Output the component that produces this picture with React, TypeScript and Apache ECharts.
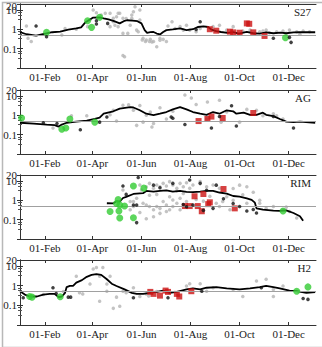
import React, { useEffect, useRef } from 'react';
import * as echarts from 'echarts';

// ---------- data (x = day of year, y = value on log scale) ----------
const panelNames = ['S27', 'AG', 'RIM', 'H2'];
const monthTickDays = [31, 90, 151, 212, 273, 334];
const monthTickLabels = ['01-Feb', '01-Apr', '01-Jun', '01-Aug', '01-Oct', '01-Dec'];
const yTickValues = [0.1, 1, 10];
const yTickLabels = ['0.1', '1', '10'];
const yTopValue = [20];
const yTopLabel = ['20'];
const refLevel = 0.5;

// S27
const s27Mean = [[0,0.7],[8,0.55],[20,0.47],[30,0.58],[40,0.7],[50,0.75],[60,0.95],[70,1.1],[76,1.25],[81,2.2],[86,3.0],[91,4.0],[99,4.1],[104,3.6],[110,3.2],[117,2.6],[124,2.0],[129,2.6],[133,2.9],[140,2.8],[146,2.6],[151,2.0],[155,0.9],[158,0.65],[162,0.7],[166,0.72],[170,0.6],[174,0.54],[178,0.72],[182,0.9],[190,0.98],[199,1.1],[207,0.9],[215,1.0],[221,1.3],[228,1.4],[234,1.3],[238,0.95],[244,0.8],[250,0.72],[258,0.65],[265,0.7],[272,0.6],[282,0.72],[290,0.62],[298,0.6],[306,0.68],[315,0.62],[324,0.66],[331,0.62],[340,0.68],[348,0.7],[358,0.7],[367,0.7]];
const s27Gray = [[8,1.46],[10,0.34],[14,0.23],[52,0.5],[56,1.1],[70,1.0],[84,1.36],[87,3.0],[91,9.8],[95,7.0],[101,5.4],[112,6.6],[116,2.45],[118,1.6],[120,4.4],[122,1.36],[124,6.6],[128,0.61],[130,0.038],[132,3.6],[137,1.6],[139,5.4],[141,8],[143,14.6],[145,0.9],[147,0.75],[149,3.0],[153,0.34],[156,0.23],[157,0.28],[162,0.3],[164,0.22],[166,0.23],[170,0.126],[174,0.34],[178,0.3],[182,0.23],[184,1.46],[189,2.45],[193,1.1],[199,1.36],[203,0.9],[207,1.6],[211,0.9],[219,0.75],[224,1.1],[240,1.36],[248,1.6],[257,0.9],[265,1.36],[277,0.8],[286,0.9],[292,0.61],[298,0.75],[302,0.8],[306,0.9],[310,0.66],[319,0.75],[327,0.8],[331,0.61],[335,0.9],[344,0.75],[348,0.55],[352,0.8],[360,0.75],[106,6.6],[112,1.36],[116,3.65],[122,6.6],[128,3.65],[139,3.65],[149,9.8],[152,0.28],[161,0.23],[174,0.27],[128,0.044],[134,0.61]];
const s27Black = [[20,1.46],[33,0.41],[95,2.75],[95,1.85],[109,2.0],[219,0.98],[224,2.45],[315,0.34],[335,0.38],[337,0.21]];
const s27Green = [[33,0.69],[84,2.75],[89,1.25],[99,4.1],[330,0.36]];
const s27Red = [[236,1.0],[244,0.84],[261,0.75],[265,0.69],[273,0.66],[282,2.0],[285,1.9],[290,0.69],[304,0.45]];

// AG
const agMean = [[0,0.41],[17,0.37],[33,0.33],[43,0.31],[48,0.26],[52,0.33],[58,0.41],[70,0.47],[83,0.53],[93,0.64],[99,0.75],[104,1.2],[116,1.6],[124,2.2],[137,2.6],[141,2.5],[149,1.8],[157,1.2],[166,1.0],[174,1.2],[182,1.46],[190,2.0],[199,2.6],[207,2.0],[215,1.46],[224,1.2],[232,1.05],[240,1.46],[248,1.2],[257,1.8],[265,1.6],[269,1.2],[278,1.35],[286,1.05],[294,1.05],[302,1.35],[306,1.05],[315,0.9],[323,0.64],[331,0.47],[340,0.44],[348,0.47],[367,0.41]];
const agGray = [[41,0.22],[64,0.95],[83,0.95],[112,1.05],[116,1.8],[128,3.3],[135,3.5],[141,1.8],[149,3.2],[153,0.44],[157,1.0],[162,1.46],[164,0.25],[166,0.37],[182,0.64],[190,1.6],[205,11],[213,7.8],[219,3.6],[232,0.64],[233,4.8],[248,5.9],[250,0.44],[257,1.46],[273,0.44],[282,2.0],[294,1.8],[302,0.95],[315,1.2],[319,0.95],[327,0.64],[120,0.5],[145,0.3],[174,2.4]];
const agBlack = [[29,0.41],[46,0.37],[75,0.18],[99,0.44],[108,0.8],[188,0.8],[190,0.7],[205,0.33],[238,0.22],[248,0.85],[263,3.1],[269,0.28],[315,0.85],[340,0.22]];
const agGreen = [[2,0.72],[52,0.19],[57,0.22],[62,0.64],[93,0.44]];
const agRed = [[222,0.5],[233,0.64],[238,0.85],[252,0.72],[290,1.3]];

// RIM
const rimMean = [[108,0.7],[116,0.68],[120,0.9],[124,0.85],[128,1.3],[132,1.5],[141,2.1],[153,2.3],[157,3.0],[166,2.8],[174,3.0],[182,3.2],[190,2.8],[199,3.0],[207,2.7],[215,2.6],[224,2.8],[232,3.0],[240,3.0],[248,2.5],[257,2.2],[265,1.65],[273,1.55],[282,1.25],[288,1.05],[292,0.75],[294,0.38],[302,0.33],[315,0.29],[323,0.28],[331,0.3],[340,0.22],[348,0.15],[352,0.087]];
const rimGray = [[149,6.1],[151,3.4],[157,5.0],[161,7.4],[166,4.1],[170,6.1],[174,5.0],[178,7.4],[182,5.4],[186,9.1],[190,6.1],[195,4.1],[199,7.4],[203,5.0],[207,8.0],[211,4.1],[215,6.1],[224,9.1],[232,5.0],[240,6.1],[248,4.1],[153,0.7],[157,0.57],[161,0.47],[166,0.32],[170,0.47],[174,0.38],[178,0.85],[182,0.57],[186,0.32],[190,0.47],[195,0.7],[199,0.32],[166,0.14],[174,0.21],[182,0.26],[190,1.03],[199,1.25],[207,0.85],[244,0.7],[248,0.47],[252,0.85],[257,1.52],[145,1.25],[141,0.85],[265,4.0],[273,6.0],[282,5.0],[277,1.9],[290,2.6],[282,0.7],[298,0.7],[306,0.38],[315,0.47],[327,0.32],[335,0.26],[344,0.12],[331,0.44],[298,1.0],[265,1.0],[261,0.32],[137,0.32],[149,0.23],[137,0.85],[157,0.11],[128,3.4],[141,0.47],[170,2.0],[186,1.5],[203,2.2],[219,1.1],[228,0.9],[236,1.6],[161,1.8],[195,3.0]];
const rimBlack = [[147,15],[128,5.4],[132,2.0],[141,0.56],[145,0.56],[145,0.07],[166,6.0],[174,4.4],[190,7.4],[211,11],[224,7.4],[232,3.3],[244,6.0],[207,0.46],[215,0.56],[240,0.38],[265,0.68],[273,0.47],[290,0.33],[294,0.22],[282,0.28],[253,1.2],[228,0.3],[203,0.6]];
const rimGreen = [[122,1.1],[120,0.68],[124,0.56],[112,0.26],[123,0.28],[124,0.12],[130,0.5],[141,5.4],[141,0.126],[154,4.2],[327,0.28]];
const rimRed = [[205,0.5],[211,0.5],[217,1.6],[221,0.5],[226,0.27],[228,2.1],[234,0.63],[236,0.78],[253,3.8],[267,0.38]];

// H2
const h2Mean = [[0,0.52],[6,0.35],[12,0.28],[21,0.28],[29,0.35],[37,0.38],[43,0.38],[48,0.26],[52,0.28],[56,0.43],[58,0.84],[62,0.96],[66,0.96],[70,1.42],[77,1.9],[83,2.8],[89,3.5],[95,3.8],[101,3.5],[108,2.1],[114,1.25],[120,0.96],[130,0.64],[139,0.43],[145,0.38],[153,0.38],[162,0.43],[170,0.48],[178,0.56],[186,0.43],[195,0.48],[207,0.64],[215,0.72],[224,0.64],[232,0.78],[244,0.84],[257,0.72],[273,0.64],[286,0.72],[298,0.84],[306,0.96],[315,0.84],[323,0.72],[335,0.56],[344,0.52],[356,0.43],[367,0.47]];
const h2Gray = [[70,3.0],[74,0.43],[78,0.38],[87,1.2],[91,6.9],[95,8.3],[99,3.0],[103,8.3],[108,1.2],[99,0.16],[108,0.52],[112,3.0],[116,0.07],[124,0.09],[120,0.26],[128,0.52],[132,0.43],[141,0.78],[149,0.28],[157,0.38],[170,0.5],[186,0.43],[207,0.96],[211,1.25],[224,1.25],[232,0.52],[240,0.78],[265,0.64],[277,0.28],[294,1.7],[306,2.1],[315,0.64],[327,0.96],[315,0.28],[29,0.35],[54,0.5],[160,0.3]];
const h2Black = [[4,0.24],[41,0.78],[45,0.4],[60,0.26],[63,0.26],[141,0.24],[184,0.24],[226,0.52],[300,0.78],[352,0.22],[358,0.2]];
const h2Green = [[12,0.28],[15,0.26],[50,0.27],[344,0.52],[358,0.86]];
const h2Red = [[162,0.48],[166,0.38],[174,0.31],[181,0.56],[184,0.48],[195,0.38],[198,0.28],[213,0.52]];

const panels = [
  { mean: s27Mean, gray: s27Gray, black: s27Black, green: s27Green, red: s27Red },
  { mean: agMean, gray: agGray, black: agBlack, green: agGreen, red: agRed },
  { mean: rimMean, gray: rimGray, black: rimBlack, green: rimGreen, red: rimRed },
  { mean: h2Mean, gray: h2Gray, black: h2Black, green: h2Green, red: h2Red },
];

// ---------- layout ----------
const FONT = "'Liberation Serif', 'Times New Roman', serif";
const gridTops = [4, 90, 175, 260];
const gridHeights = [64, 64, 64, 65];
const X_MIN = 0;
const X_MAX = 368;
const Y_MIN = 0.01;
const Y_MAX = 20;

function labelFor(values: number[], labels: string[]) {
  return (v: number) => {
    for (let k = 0; k < values.length; k++) {
      if (Math.abs(Math.log10(v) - Math.log10(values[k])) < 0.01) return labels[k];
    }
    return '';
  };
}

function buildOption() {
  const grid: any[] = [];
  const xAxis: any[] = [];
  const yAxis: any[] = [];
  const series: any[] = [];
  const graphic: any[] = [];
  const axisLineStyle = { color: '#333', width: 1 };
  const n = panels.length;

  panels.forEach((p, i) => {
    grid.push({ left: 20, top: gridTops[i], width: 296, height: gridHeights[i], show: false });
    xAxis.push({
      type: 'value', gridIndex: i, min: X_MIN, max: X_MAX, position: 'bottom',
      axisLine: { show: true, lineStyle: axisLineStyle },
      axisTick: { show: true, inside: true, length: 3, customValues: monthTickDays, lineStyle: axisLineStyle },
      axisLabel: {
        show: true, customValues: monthTickDays, margin: 3,
        fontFamily: FONT, fontSize: 11, color: '#222',
        formatter: (v: number) => {
          const k = monthTickDays.indexOf(Math.round(v));
          return k >= 0 ? monthTickLabels[k] : '';
        },
      },
      splitLine: { show: false },
    });
    xAxis.push({
      type: 'value', gridIndex: i, min: X_MIN, max: X_MAX, position: 'top',
      axisLine: { show: true, lineStyle: axisLineStyle },
      axisTick: { show: true, inside: true, length: 3, customValues: monthTickDays, lineStyle: axisLineStyle },
      axisLabel: { show: false },
      splitLine: { show: false },
    });
    yAxis.push({
      type: 'log', logBase: 10, gridIndex: i, min: Y_MIN, max: Y_MAX, position: 'left',
      axisLine: { show: true, lineStyle: axisLineStyle },
      axisTick: { show: true, inside: true, length: 3, lineStyle: axisLineStyle },
      minorTick: { show: true, splitNumber: 4, length: 2, lineStyle: { color: '#555' } },
      axisLabel: {
        show: true, margin: 3, fontFamily: FONT, fontSize: 11, color: '#222',
        customValues: yTickValues, hideOverlap: false,
        showMinLabel: true, showMaxLabel: true,
        formatter: labelFor(yTickValues, yTickLabels),
      },
      splitLine: { show: false },
    });
    yAxis.push({
      type: 'log', logBase: 10, gridIndex: i, min: Y_MIN, max: Y_MAX, position: 'right',
      axisLine: { show: true, lineStyle: axisLineStyle },
      axisTick: { show: true, inside: true, length: 3, lineStyle: axisLineStyle },
      minorTick: { show: true, splitNumber: 4, length: 2, lineStyle: { color: '#555' } },
      axisLabel: { show: false },
      splitLine: { show: false },
    });

    const xi = i * 2;
    const yi = i * 2;
    series.push({
      type: 'scatter', xAxisIndex: xi, yAxisIndex: yi, data: p.gray,
      symbol: 'circle', symbolSize: 3.5, itemStyle: { color: '#b4b4b4' }, z: 1,
    });
    series.push({
      type: 'line', xAxisIndex: xi, yAxisIndex: yi, data: p.mean,
      showSymbol: false, symbol: 'none', lineStyle: { color: '#000', width: 1.8 }, z: 3,
      markLine: {
        silent: true, symbol: 'none', label: { show: false },
        lineStyle: { color: '#a0a0a0', width: 1, type: 'solid' },
        data: [{ yAxis: refLevel }],
      },
    });
    series.push({
      type: 'scatter', xAxisIndex: xi, yAxisIndex: yi, data: p.red,
      symbol: 'rect', symbolSize: 6, itemStyle: { color: '#cc1111' }, z: 4,
    });
    series.push({
      type: 'scatter', xAxisIndex: xi, yAxisIndex: yi, data: p.green,
      symbol: 'circle', symbolSize: 7, itemStyle: { color: '#33cc33' }, z: 5,
    });
    series.push({
      type: 'scatter', xAxisIndex: xi, yAxisIndex: yi, data: p.black,
      symbol: 'circle', symbolSize: 3.5, itemStyle: { color: '#111' }, z: 6,
    });

    graphic.push({
      type: 'text', right: 11, top: gridTops[i] + 2,
      style: { text: panelNames[i], font: `11px ${FONT}`, fill: '#222' },
      z: 10,
    });
  });

  // overlay grids carrying only the "20" label at the top of each y axis
  panels.forEach((_, i) => {
    const gi = n + i;
    grid.push({ left: 20, top: gridTops[i], width: 296, height: gridHeights[i], show: false });
    xAxis.push({
      type: 'value', gridIndex: gi, min: X_MIN, max: X_MAX, show: false,
    });
    yAxis.push({
      type: 'log', logBase: 10, gridIndex: gi, min: Y_MIN, max: Y_MAX, position: 'left',
      axisLine: { show: false }, axisTick: { show: false }, minorTick: { show: false },
      splitLine: { show: false },
      axisLabel: {
        show: true, margin: 3, fontFamily: FONT, fontSize: 11, color: '#222',
        customValues: yTopValue, showMaxLabel: true,
        formatter: labelFor(yTopValue, yTopLabel),
      },
    });
  });

  graphic.push({
    type: 'rect', left: 0, top: 0, shape: { width: 321, height: 345 },
    style: { fill: 'none', stroke: '#b8b8b8', lineWidth: 1.5 }, silent: true, z: 0,
  });

  return {
    animation: false,
    backgroundColor: '#fff',
    grid, xAxis, yAxis, series, graphic,
  };
}

export default function App() {
  const ref = useRef<HTMLDivElement>(null);
  useEffect(() => {
    if (!ref.current) return;
    const chart = echarts.init(ref.current, undefined, { renderer: 'svg' });
    chart.setOption(buildOption() as any);
    return () => chart.dispose();
  }, []);
  return (
    <div
      ref={ref}
      style={{ position: 'absolute', left: 0, top: 0, width: 322, height: 347, background: '#fff' }}
    />
  );
}
